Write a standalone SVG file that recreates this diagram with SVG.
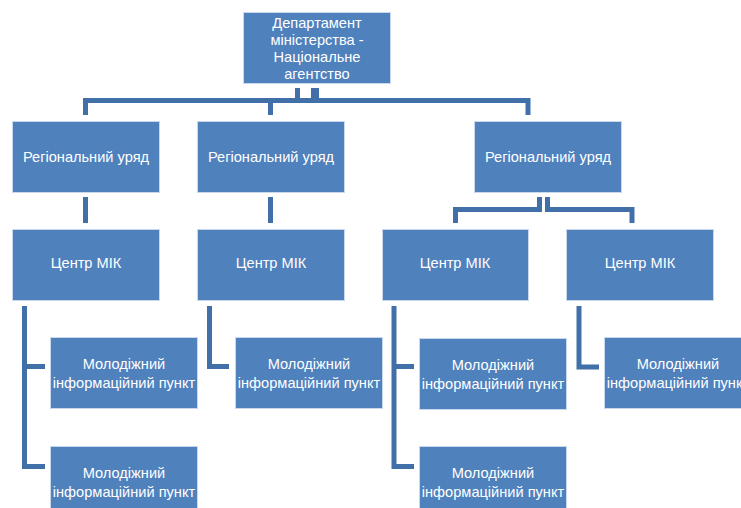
<svg xmlns="http://www.w3.org/2000/svg" width="741" height="508" viewBox="0 0 741 508">
<style>
.box{fill:#4F81BD;stroke:#C9D8EC;stroke-width:1}
.t{fill:#FFFFFF;font-family:"Liberation Sans","Open Sans",sans-serif;font-size:14.6px;text-anchor:middle}
.c{fill:none;stroke:#4170A8;stroke-width:5;stroke-linejoin:miter;stroke-linecap:butt}
</style>
<rect width="741" height="508" fill="#FFFFFF"/>
<g id="connectors">
<path class="c" d="M85.5 115 V100.5 H528 V115"/>
<path class="c" d="M297.5 88 V100.5"/>
<path class="c" d="M315 88 V100.5" style="stroke-width:8"/>
<path class="c" d="M270.5 100.5 V115"/>
<path class="c" d="M85.5 197 V223"/>
<path class="c" d="M270.5 197 V223"/>
<path class="c" d="M539.5 197 V209.5 H455.5 V223"/>
<path class="c" d="M547.5 197 V209.5 H632 V223"/>
<path class="c" d="M24.5 306 V466.5 H45"/>
<path class="c" d="M24.5 366.5 H45"/>
<path class="c" d="M209.5 306 V366.5 H229"/>
<path class="c" d="M394 306 V466.5 H414"/>
<path class="c" d="M394 366.5 H414"/>
<path class="c" d="M579 306 V367 H599"/>
</g>
<g id="n-dept">
<rect class="box" x="243.5" y="12.5" width="147" height="71"/>
<text class="t" x="317" y="28">Департамент</text>
<text class="t" x="317" y="45">міністерства -</text>
<text class="t" x="317" y="62">Національне</text>
<text class="t" x="317" y="79">агентство</text>
</g>
<g id="n-reg1">
<rect class="box" x="12.5" y="121.5" width="147" height="71"/>
<text class="t" x="86" y="162">Регіональний уряд</text>
</g>
<g id="n-reg2">
<rect class="box" x="197.5" y="121.5" width="147" height="71"/>
<text class="t" x="271" y="162">Регіональний уряд</text>
</g>
<g id="n-reg3">
<rect class="box" x="474.5" y="121.5" width="147" height="71"/>
<text class="t" x="548" y="162">Регіональний уряд</text>
</g>
<g id="n-mik1">
<rect class="box" x="12.5" y="229.5" width="147" height="71"/>
<text class="t" x="86" y="268">Центр МІК</text>
</g>
<g id="n-mik2">
<rect class="box" x="197.5" y="229.5" width="147" height="71"/>
<text class="t" x="271" y="268">Центр МІК</text>
</g>
<g id="n-mik3">
<rect class="box" x="382.5" y="229.5" width="146" height="71"/>
<text class="t" x="455" y="268">Центр МІК</text>
</g>
<g id="n-mik4">
<rect class="box" x="566.5" y="229.5" width="147" height="71"/>
<text class="t" x="640" y="268">Центр МІК</text>
</g>
<g id="n-mip1">
<rect class="box" x="50.5" y="337.5" width="147" height="71"/>
<text class="t" x="124" y="369">Молодіжний</text>
<text class="t" x="124" y="388">інформаційний пункт</text>
</g>
<g id="n-mip2">
<rect class="box" x="50.5" y="446.5" width="147" height="71"/>
<text class="t" x="124" y="478">Молодіжний</text>
<text class="t" x="124" y="497">інформаційний пункт</text>
</g>
<g id="n-mip3">
<rect class="box" x="235.5" y="337.5" width="147" height="71"/>
<text class="t" x="309" y="369">Молодіжний</text>
<text class="t" x="309" y="388">інформаційний пункт</text>
</g>
<g id="n-mip4">
<rect class="box" x="419.5" y="338.5" width="147" height="71"/>
<text class="t" x="493" y="370">Молодіжний</text>
<text class="t" x="493" y="389">інформаційний пункт</text>
</g>
<g id="n-mip5">
<rect class="box" x="419.5" y="446.5" width="147" height="71"/>
<text class="t" x="493" y="478">Молодіжний</text>
<text class="t" x="493" y="497">інформаційний пункт</text>
</g>
<g id="n-mip6">
<rect class="box" x="604.5" y="337.5" width="147" height="71"/>
<text class="t" x="678" y="369">Молодіжний</text>
<text class="t" x="678" y="388">інформаційний пункт</text>
</g>
</svg>
